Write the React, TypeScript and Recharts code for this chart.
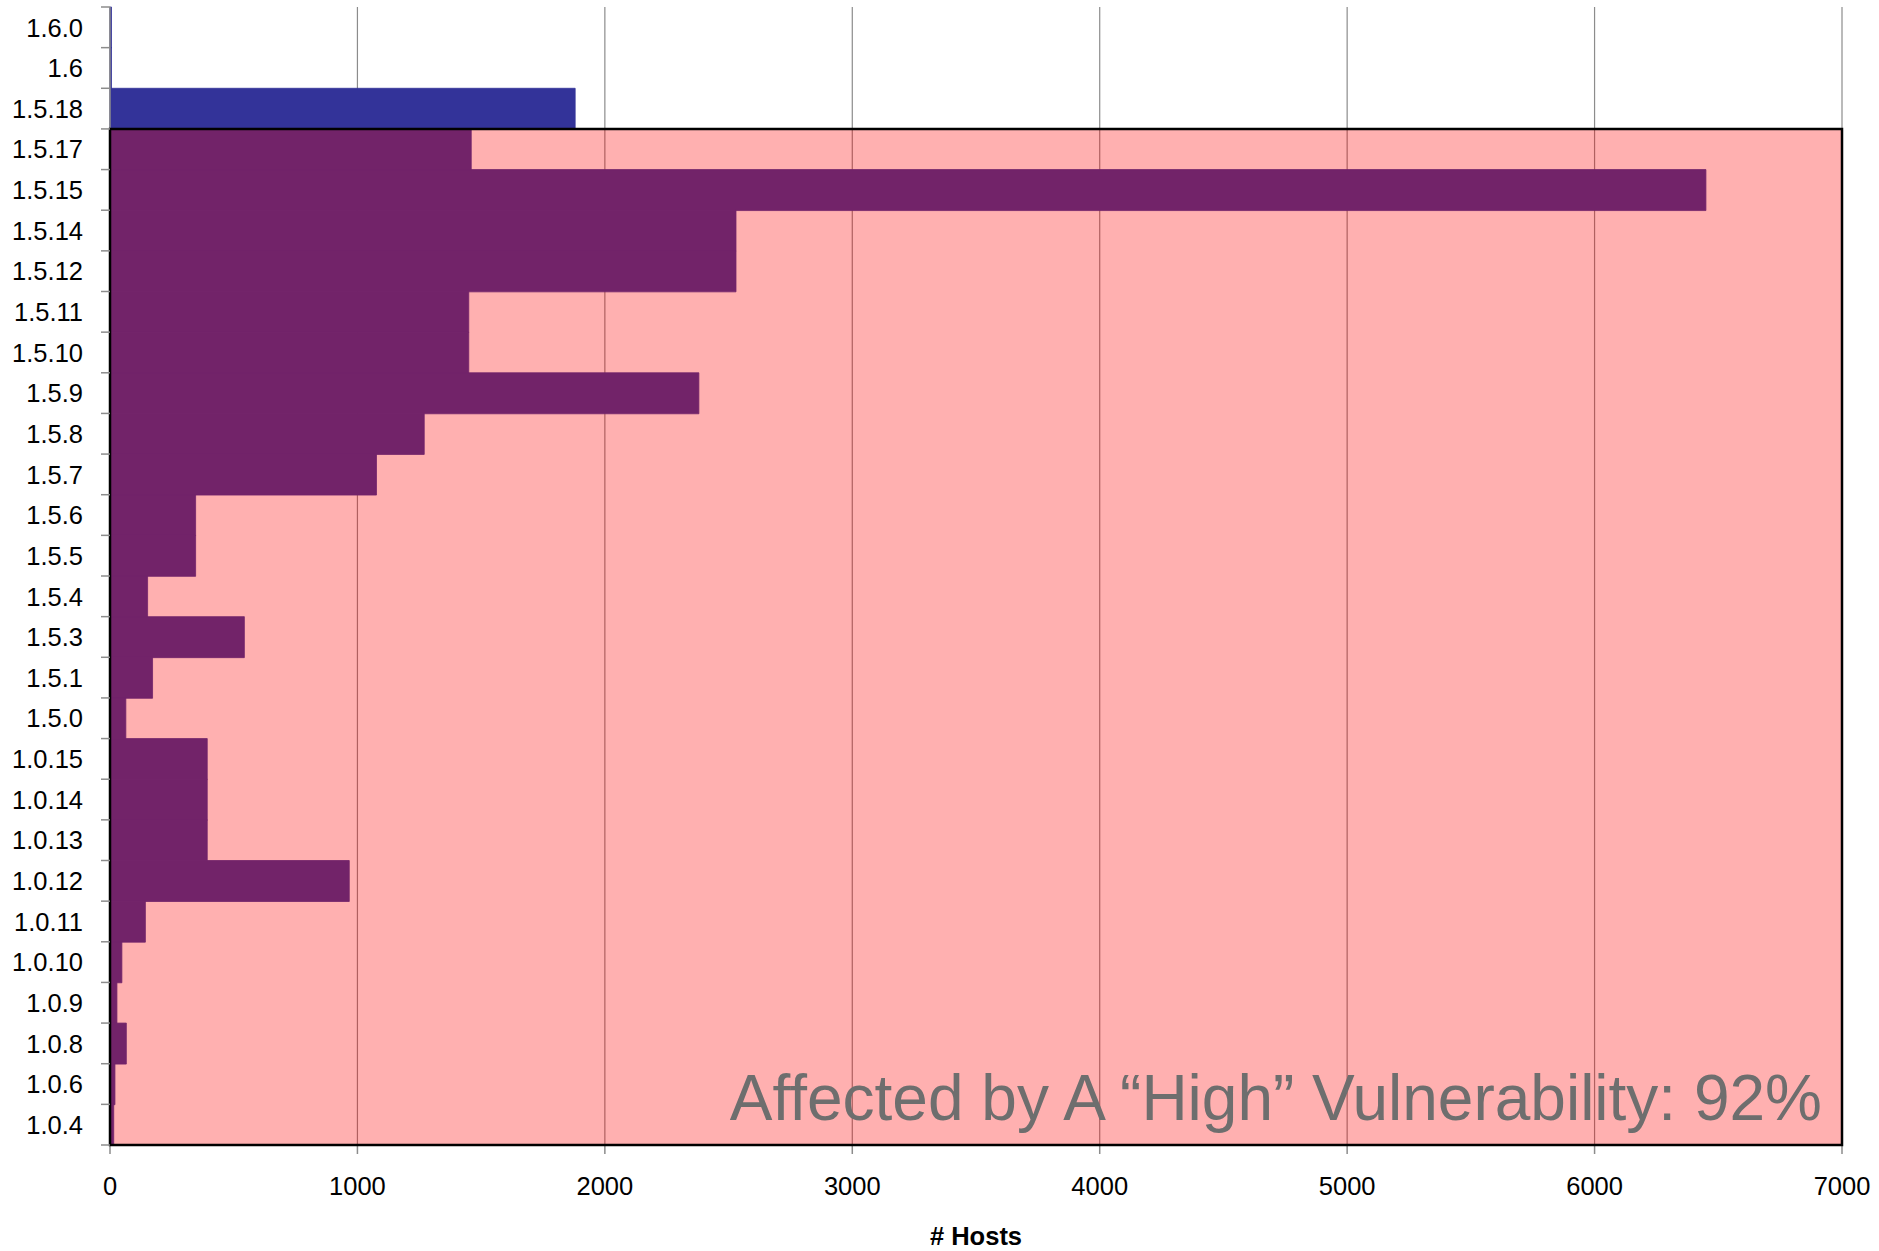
import React from 'react';
import {
  BarChart,
  Bar,
  XAxis,
  YAxis,
  CartesianGrid,
  ReferenceArea,
} from 'recharts';

const versions = [
  '1.6.0', '1.6', '1.5.18', '1.5.17', '1.5.15', '1.5.14', '1.5.12', '1.5.11',
  '1.5.10', '1.5.9', '1.5.8', '1.5.7', '1.5.6', '1.5.5', '1.5.4', '1.5.3',
  '1.5.1', '1.5.0', '1.0.15', '1.0.14', '1.0.13', '1.0.12', '1.0.11', '1.0.10',
  '1.0.9', '1.0.8', '1.0.6', '1.0.4',
];

const hosts = [
  6, 6, 1880, 1460, 6450, 2530, 2530, 1450,
  1450, 2380, 1270, 1077, 346, 346, 152, 543,
  172, 64, 393, 393, 393, 967, 143, 48,
  28, 66, 20, 15,
];

const xTicks = [0, 1000, 2000, 3000, 4000, 5000, 6000, 7000];

const highFrom = '1.5.17';
const highTo = '1.0.4';
const highLabel = 'Affected by A \u201CHigh\u201D Vulnerability: 92%';

const data = versions.map((version, i) => ({ version, hosts: hosts[i] }));

const WIDTH = 1879;
const HEIGHT = 1251;
const TOP = 7;
const X_AXIS_H = 106;
const Y_AXIS_W = 110;
const FONT = '"Liberation Sans", Arial, sans-serif';
const GRID = '#8C8C8C';
const TICK_FS = 25.5;

const band = (HEIGHT - TOP - X_AXIS_H) / versions.length;

const VersionTick = (props: any) => {
  const { x, y, payload, index } = props;
  const axisX = x + 27;
  return (
    <g>
      <line x1={axisX - 9} x2={axisX} y1={y - band / 2} y2={y - band / 2} stroke={GRID} strokeWidth={1.5} />
      {index === versions.length - 1 && (
        <line x1={axisX - 9} x2={axisX} y1={y + band / 2} y2={y + band / 2} stroke={GRID} strokeWidth={1.5} />
      )}
      <text x={x} y={y} dy="0.36em" textAnchor="end" fontSize={TICK_FS} fill="#000" fontFamily={FONT}>
        {payload.value}
      </text>
    </g>
  );
};

const HighLabel = (props: any) => {
  const vb = props.viewBox;
  return (
    <text
      x={vb.x + vb.width - 20}
      y={vb.y + vb.height - 25}
      textAnchor="end"
      fontSize={64}
      fill="#6E6E6E"
      fontFamily={FONT}
    >
      {highLabel}
    </text>
  );
};

export default function App() {
  return (
    <div style={{ position: 'absolute', left: 0, top: 0, fontFamily: FONT }}>
      <BarChart
        width={WIDTH}
        height={HEIGHT}
        data={data}
        layout="vertical"
        barCategoryGap={0}
        margin={{ top: TOP, right: 37, bottom: 0, left: 0 }}
      >
        <CartesianGrid horizontal={false} stroke={GRID} strokeWidth={1.2} />
        <XAxis
          type="number"
          domain={[0, 7000]}
          ticks={xTicks}
          height={X_AXIS_H}
          tickSize={9}
          tickMargin={23}
          stroke={GRID}
          strokeWidth={1.5}
          tick={{ fontSize: TICK_FS, fill: '#000', fontFamily: FONT }}
          label={{
            value: '# Hosts',
            position: 'insideBottom',
            offset: 6,
            style: { fontSize: 25.5, fontWeight: 'bold', fill: '#000', fontFamily: FONT },
          }}
        />
        <YAxis
          type="category"
          dataKey="version"
          width={Y_AXIS_W}
          interval={0}
          tickSize={0}
          tickMargin={27}
          tickLine={false}
          stroke={GRID}
          strokeWidth={1.5}
          tick={<VersionTick />}
        />
        <Bar
          dataKey="hosts"
          fill="#333399"
          stroke="#333399"
          strokeWidth={0.8}
          isAnimationActive={false}
        />
        <ReferenceArea
          y1={highFrom}
          y2={highTo}
          x1={0}
          x2={7000}
          fill="#FF0000"
          fillOpacity={0.31}
          stroke="#000"
          strokeWidth={2.5}
          zIndex={600}
          ifOverflow="visible"
          label={<HighLabel />}
        />
      </BarChart>
    </div>
  );
}
